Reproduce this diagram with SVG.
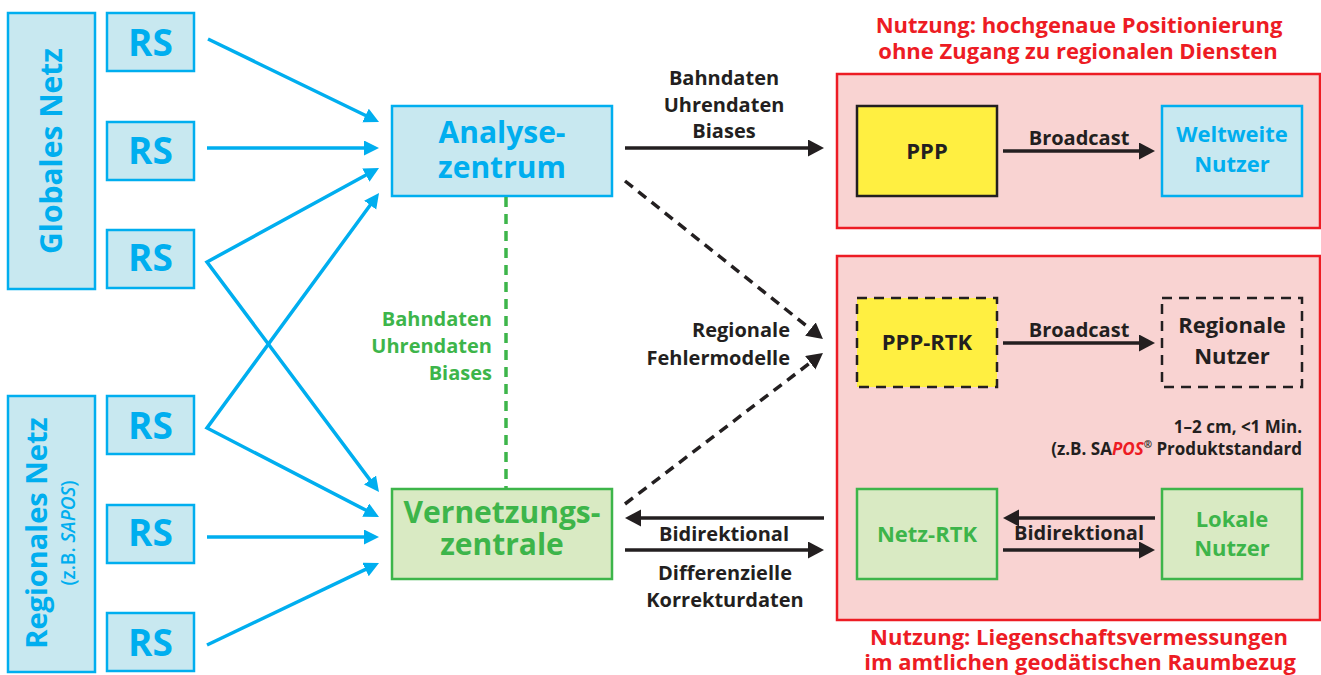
<svg xmlns="http://www.w3.org/2000/svg" width="1321" height="675" viewBox="0 0 1321 675">
<style>
text{font-family:"Open Sans","Noto Sans","Liberation Sans",sans-serif;font-weight:bold}
.bbox{fill:#c8e8f0;stroke:#00aeef;stroke-width:2.5}
.gbox{fill:#d9eac3;stroke:#3db54a;stroke-width:2.5}
.panel{fill:#f9d3d2;stroke:#ed1c24;stroke-width:2.5}
.ybox{fill:#ffef41;stroke:#231f20;stroke-width:2.5}
.dash{stroke-dasharray:10 7}
.bt{fill:#00aeef}
.gt{fill:#3db54a}
.kt{fill:#231f20}
.rs{font-size:37px;text-anchor:middle;fill:#00aeef}
.lbl{font-size:20px;text-anchor:middle;fill:#231f20}
.lbr{font-size:20px;text-anchor:end;fill:#231f20}
.node{font-size:22px;text-anchor:middle}
.big{font-size:30px;text-anchor:middle}
.title{font-size:22px;text-anchor:middle;fill:#ed1c24}
.bl{fill:none;stroke:#00aeef;stroke-width:3.5;stroke-linejoin:miter}
.kl{fill:none;stroke:#231f20;stroke-width:3.5}
</style>
<defs>
<marker id="ab" markerUnits="userSpaceOnUse" markerWidth="16" markerHeight="16" refX="7" refY="7.5" orient="auto-start-reverse"><path d="M0,0 L15,7.5 L0,15 z" fill="#00aeef"/></marker>
<marker id="ak" markerUnits="userSpaceOnUse" markerWidth="17" markerHeight="18" refX="8" refY="8.5" orient="auto-start-reverse"><path d="M0,0 L16,8.5 L0,17 z" fill="#231f20"/></marker>
</defs>

<g id="panel-ppp">
<rect class="panel" x="837" y="74" width="483" height="154"/>
<text class="title" x="1079" y="33">Nutzung: hochgenaue Positionierung</text>
<text class="title" x="1078" y="59">ohne Zugang zu regionalen Diensten</text>
</g>
<g id="panel-rtk">
<rect class="panel" x="837" y="256" width="483" height="364"/>
<text class="title" x="1079" y="645">Nutzung: Liegenschaftsvermessungen</text>
<text class="title" x="1080" y="670">im amtlichen geodätischen Raumbezug</text>
<text class="kt" font-size="17" text-anchor="end" x="1302" y="433">1–2 cm, &lt;1 Min.</text>
<text class="kt" font-size="17" text-anchor="end" x="1302" y="455">(z.B. SA<tspan fill="#ed1c24" font-style="italic">POS</tspan><tspan font-size="10" dy="-7">®</tspan><tspan dy="7"> Produktstandard</tspan></text>
</g>

<g id="globales-netz">
<rect class="bbox" x="8" y="13" width="87" height="276"/>
<text class="bt" font-size="30" text-anchor="middle" transform="translate(62,151) rotate(-90)">Globales Netz</text>
</g>
<g id="regionales-netz">
<rect class="bbox" x="8" y="396" width="87" height="276"/>
<text class="bt" font-size="29" text-anchor="middle" transform="translate(47,533) rotate(-90)">Regionales Netz</text>
<text class="bt" font-size="19" text-anchor="middle" style="font-weight:600" transform="translate(75,533) rotate(-90)">(z.B. <tspan font-style="italic">SAPOS</tspan>)</text>
</g>

<g id="rs1"><rect class="bbox" x="107" y="13" width="87" height="58"/><text class="rs" x="150.5" y="56">RS</text></g>
<g id="rs2"><rect class="bbox" x="107" y="122" width="87" height="58"/><text class="rs" x="150.5" y="164">RS</text></g>
<g id="rs3"><rect class="bbox" x="107" y="230" width="87" height="58"/><text class="rs" x="150.5" y="271">RS</text></g>
<g id="rs4"><rect class="bbox" x="107" y="396" width="87" height="58"/><text class="rs" x="150.5" y="439">RS</text></g>
<g id="rs5"><rect class="bbox" x="107" y="505" width="87" height="58"/><text class="rs" x="150.5" y="546">RS</text></g>
<g id="rs6"><rect class="bbox" x="107" y="613" width="87" height="58"/><text class="rs" x="150.5" y="656">RS</text></g>

<g id="analysezentrum">
<rect class="bbox" x="392" y="106" width="220" height="90"/>
<text class="big bt" x="502" y="143">Analyse-</text>
<text class="big bt" x="502" y="178">zentrum</text>
</g>
<g id="vernetzungszentrale">
<rect class="gbox" x="392" y="489" width="220" height="90"/>
<text class="big gt" x="502" y="523">Vernetzungs-</text>
<text class="big gt" x="502" y="555">zentrale</text>
</g>

<g id="ppp">
<rect class="ybox" x="857" y="106" width="140" height="90"/>
<text class="node kt" font-size="24" x="927" y="159">PPP</text>
</g>
<g id="weltweite-nutzer">
<rect class="bbox" x="1162" y="106" width="140" height="90"/>
<text class="node bt" x="1232" y="142">Weltweite</text>
<text class="node bt" x="1232" y="172">Nutzer</text>
</g>
<g id="ppp-rtk">
<rect class="ybox dash" x="857" y="298" width="140" height="89"/>
<text class="node kt" font-size="23" x="927" y="350">PPP-RTK</text>
</g>
<g id="regionale-nutzer">
<rect class="dash" x="1162" y="298" width="140" height="89" fill="none" stroke="#231f20" stroke-width="2.5"/>
<text class="node kt" x="1232" y="333">Regionale</text>
<text class="node kt" x="1232" y="364">Nutzer</text>
</g>
<g id="netz-rtk">
<rect class="gbox" x="857" y="489" width="140" height="90"/>
<text class="node gt" font-size="24" x="927" y="542">Netz-RTK</text>
</g>
<g id="lokale-nutzer">
<rect class="gbox" x="1162" y="489" width="140" height="90"/>
<text class="node gt" x="1232" y="527">Lokale</text>
<text class="node gt" x="1232" y="556">Nutzer</text>
</g>

<g id="connectors">
<line class="bl" x1="208" y1="39" x2="371.8" y2="118.5" marker-end="url(#ab)"/>
<line class="bl" x1="207" y1="148" x2="371" y2="148" marker-end="url(#ab)"/>
<path class="bl" d="M372,171.8 L207,262 L374.2,485.6" marker-start="url(#ab)" marker-end="url(#ab)"/>
<path class="bl" d="M374.3,199.5 L207,428 L371.9,513.3" marker-start="url(#ab)" marker-end="url(#ab)"/>
<line class="bl" x1="207" y1="537" x2="371" y2="537" marker-end="url(#ab)"/>
<line class="bl" x1="207" y1="645" x2="371.8" y2="566.4" marker-end="url(#ab)"/>

<line x1="506" y1="197" x2="506" y2="489" stroke="#3db54a" stroke-width="3.5" stroke-dasharray="10 7"/>
<text class="gt" font-size="20" text-anchor="end" x="492" y="326">Bahndaten</text>
<text class="gt" font-size="20" text-anchor="end" x="492" y="353">Uhrendaten</text>
<text class="gt" font-size="20" text-anchor="end" x="492" y="380">Biases</text>

<line class="kl" x1="625" y1="148" x2="816" y2="148" marker-end="url(#ak)"/>
<text class="lbl" x="724" y="85">Bahndaten</text>
<text class="lbl" x="724" y="112">Uhrendaten</text>
<text class="lbl" x="724" y="138">Biases</text>

<line class="kl" x1="625" y1="181" x2="816.7" y2="334" stroke-dasharray="10 7" marker-end="url(#ak)"/>
<line class="kl" x1="625" y1="504" x2="816.6" y2="357.9" stroke-dasharray="10 7" marker-end="url(#ak)"/>
<text class="lbr" x="790" y="337">Regionale</text>
<text class="lbr" x="790" y="365">Fehlermodelle</text>

<line class="kl" x1="824" y1="518" x2="633" y2="518" marker-end="url(#ak)"/>
<line class="kl" x1="625" y1="550" x2="816" y2="550" marker-end="url(#ak)"/>
<text class="lbl" x="724" y="541">Bidirektional</text>
<text class="lbl" x="725" y="580">Differenzielle</text>
<text class="lbl" x="725" y="607">Korrekturdaten</text>

<line class="kl" x1="1003" y1="151" x2="1147" y2="151" marker-end="url(#ak)"/>
<text class="lbl" x="1079" y="145">Broadcast</text>
<line class="kl" x1="1003" y1="343" x2="1147" y2="343" marker-end="url(#ak)"/>
<text class="lbl" x="1079" y="337">Broadcast</text>
<line class="kl" x1="1155" y1="518" x2="1011" y2="518" marker-end="url(#ak)"/>
<line class="kl" x1="1003" y1="550" x2="1147" y2="550" marker-end="url(#ak)"/>
<text class="lbl" x="1079" y="540">Bidirektional</text>
</g>
</svg>
